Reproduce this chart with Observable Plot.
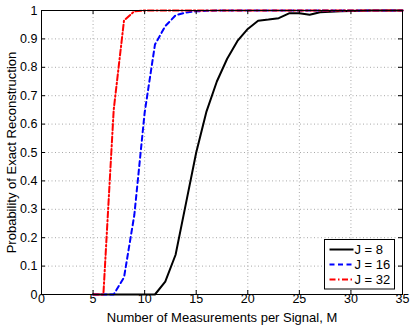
<!DOCTYPE html>
<html>
<head>
<meta charset="utf-8">
<script src="https://cdn.jsdelivr.net/npm/d3@7"></script>
<script src="https://cdn.jsdelivr.net/npm/@observablehq/plot@0.6"></script>
<style>
  html, body { margin: 0; padding: 0; background: white; }
  #chart { position: relative; width: 412px; height: 327px; }
</style>
</head>
<body>
<div id="chart"></div>
<script>
// Number of measurements per signal
const M = [5,6,7,8,9,10,11,12,13,14,15,16,17,18,19,20,21,22,23,24,25,26,27,28,29,30,31,32,33,34,35];
// Probability of exact reconstruction, per J
const J8  = [0,0,0,0,0,0,0,0.045,0.14,0.32,0.5,0.645,0.75,0.83,0.893,0.935,0.964,0.968,0.973,0.99,0.99,0.985,0.994,0.996,0.997,0.998,0.999,1,1,1,1];
const J16 = [0,0,0,0.06,0.28,0.64,0.88,0.945,0.983,0.993,0.997,0.999,1,1,1,1,1,1,1,1,1,1,1,1,1,1,1,1,1,1,1];
const J32 = [0,0,0.65,0.965,0.997,1,1,1,1,1,1,1,1,1,1,1,1,1,1,1,1,1,1,1,1,1,1,1,1,1,1];
const seriesNames = ["J = 8", "J = 16", "J = 32"];
const xTicks = [0,5,10,15,20,25,30,35];
const yTicks = [0,0.1,0.2,0.3,0.4,0.5,0.6,0.7,0.8,0.9,1];
const xLabel = "Number of Measurements per Signal, M";
const yLabel = "Probability of Exact Reconstruction";

const styles = [
  {stroke: "black", dash: null},
  {stroke: "blue", dash: "5,3.5"},
  {stroke: "red", dash: "6,2.5,1.5,2.5"}
];
const allSeries = [J8, J16, J32];
const tables = allSeries.map((vals, k) => M.map((m, i) => ({M: m, p: vals[i], J: seriesNames[k]})));

const W = 412, H = 327, mL = 41, mR = 10, mT = 10, mB = 33;
const pw = W - mL - mR, ph = H - mT - mB;
const FONT = "'Liberation Sans', Arial, sans-serif";

const svg = Plot.plot({
  width: W, height: H,
  marginLeft: mL, marginRight: mR, marginTop: mT, marginBottom: mB,
  style: {fontFamily: FONT, fontSize: "13px", background: "white", color: "black", overflow: "visible"},
  x: {domain: [0, 35], ticks: xTicks, label: null},
  y: {domain: [0, 1], ticks: yTicks, label: null},
  marks: [
    Plot.gridX(xTicks, {stroke: "#a8a8a8", strokeOpacity: 1, strokeDasharray: "1,2.5"}),
    Plot.gridY(yTicks, {stroke: "#a8a8a8", strokeOpacity: 1, strokeDasharray: "1,2.5"}),
    ...tables.map((t, k) => Plot.line(t, {x: "M", y: "p", stroke: styles[k].stroke, strokeWidth: 2, strokeDasharray: styles[k].dash, strokeLinejoin: "round"})),
    Plot.frame({stroke: "black", strokeWidth: 1}),
    Plot.tickX(xTicks, {x: d => d, insetTop: ph - 4, stroke: "black"}),
    Plot.tickX(xTicks, {x: d => d, insetBottom: ph - 4, stroke: "black"}),
    Plot.tickY(yTicks, {y: d => d, insetRight: pw - 4, stroke: "black"}),
    Plot.tickY(yTicks, {y: d => d, insetLeft: pw - 4, stroke: "black"}),
    Plot.axisX(xTicks, {tickSize: 0, tickPadding: 0, fontSize: 12.5, label: null}),
    Plot.axisY(yTicks, {tickSize: 0, tickPadding: 4, fontSize: 12.5, label: null, tickFormat: d => String(+d.toFixed(1))}),
    Plot.text([xLabel], {frameAnchor: "bottom", dy: 23, fontSize: 13, text: d => d, textAnchor: "middle", lineAnchor: "middle"}),
    Plot.text([yLabel], {frameAnchor: "left", dx: -30, rotate: -90, fontSize: 13, text: d => d, textAnchor: "middle"})
  ]
});

// Legend
const g = d3.select(svg).append("g").attr("font-size", 13).attr("font-family", FONT).attr("text-anchor", "start");
const lx = 324.5, ly = 239.5, lw = 70, lh = 49.5;
g.append("rect").attr("x", lx).attr("y", ly).attr("width", lw).attr("height", lh)
  .attr("fill", "white").attr("stroke", "black").attr("stroke-width", 1);
seriesNames.forEach((name, k) => {
  const yy = ly + 10 + k * 15;
  g.append("line").attr("x1", lx + 5).attr("x2", lx + 29).attr("y1", yy).attr("y2", yy)
    .attr("stroke", styles[k].stroke).attr("stroke-width", 2)
    .attr("stroke-dasharray", styles[k].dash);
  g.append("text").attr("x", lx + 30).attr("y", yy + 4.5).attr("fill", "black")
    .attr("text-anchor", "start").text(name);
});

document.getElementById("chart").appendChild(svg);
</script>
</body>
</html>
